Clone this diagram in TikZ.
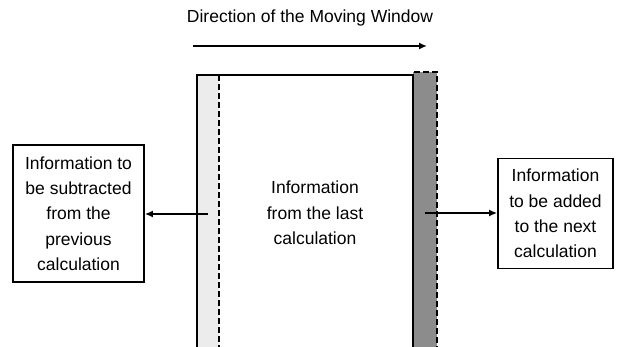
\documentclass[tikz,border=0pt]{standalone}
\usepackage{fontspec}
\setmainfont{Liberation Sans}
\usepackage{tikz}
\usetikzlibrary{arrows.meta, positioning}

\tikzset{
  infobox/.style={rectangle, draw, line width=1.7pt, align=center, inner sep=0pt},
  label/.style={align=center, inner sep=0pt},
  flow/.style={-{Latex[length=8pt,width=7pt]}, line width=2.2pt},
  cut/.style={line width=2.4pt, dash pattern=on 6pt off 3pt}
}

\begin{document}
\begin{tikzpicture}[x=1pt, y=-1pt, font=\fontsize{17.5}{25.3}\selectfont]
\useasboundingbox (0,0) rectangle (617,347);
% moving window
\fill[gray!15] (197,75) rectangle (219,350);
\fill[gray!90!white] (413,72) rectangle (437,350);
\draw[line width=1.7pt] (197,350) -- (197,75) -- (413,75);
\draw[line width=2.4pt] (413,75) -- (413,350);
\draw[cut] (219,75) -- (219,350);
\draw[cut] (413,350) -- (413,72) -- (437,72) -- (437,350);
\node (title) [label] at (310,18) {Direction of the Moving Window};
\coordinate (dirstart) at (193,46);
\coordinate (dirend) at (427,46);
\draw[flow] (dirstart) -- (dirend);
\node (last) [label] at (315,213) {Information\\from the last\\calculation};
\node (subtract) [infobox, minimum width=131pt, minimum height=137pt] at (78.5,213.5) {Information to\\be subtracted\\from the\\previous\\calculation};
\node (add) [infobox, minimum width=115pt, minimum height=110pt] at (555.5,213.5) {Information\\to be added\\to the next\\calculation};
\coordinate (oldedge) at (208,214);
\coordinate (newedge) at (425,213);
\draw[flow] (oldedge) -- (subtract.east |- oldedge);
\draw[flow] (newedge) -- (add.west |- newedge);
\end{tikzpicture}
\end{document}
